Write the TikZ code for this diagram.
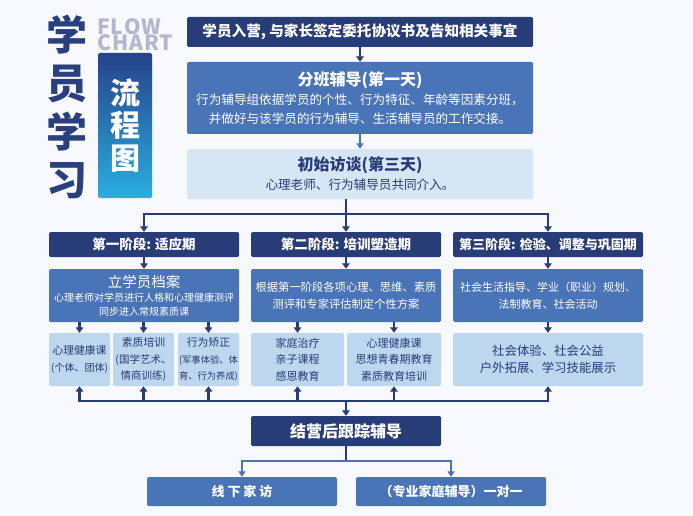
\documentclass[tikz,border=0pt]{standalone}
\usepackage{fontspec}
\setmainfont{Noto Sans CJK SC}
\usetikzlibrary{arrows.meta}
\definecolor{navy}{HTML}{283C78}
\definecolor{titlenavy}{HTML}{2A3F7E}
\definecolor{midblue}{HTML}{4A74B8}
\definecolor{pale}{HTML}{D7E6F4}
\definecolor{lightbox}{HTML}{BCD7EE}
\definecolor{bgcol}{HTML}{F7F9FC}
\definecolor{flowgray}{HTML}{B3B6CE}
\definecolor{gtop}{HTML}{26428A}
\definecolor{gbot}{HTML}{2AAEE0}
\tikzset{
  boxbase/.style={rounded corners=1.5pt, inner sep=0pt, align=center},
  wh/.style 2 args={minimum width=#1pt, minimum height=#2pt},
  darkbox/.style={boxbase, fill=navy, text=white},
  midbox/.style={boxbase, fill=midblue, text=white},
  palebox/.style={boxbase, fill=pale, text=navy},
  litebox/.style={boxbase, fill=lightbox, text=navy},
  conn/.style={draw=navy, line width=2.4pt},
  arr/.style={conn, -{Triangle[length=5.5pt,width=7.5pt]}},
  conn2/.style={draw=midblue, line width=2pt},
  arr2/.style={conn2, -{Triangle[length=5.5pt,width=7pt]}},
}
\begin{document}
\begin{tikzpicture}[x=1pt, y=-1pt]
\fill[bgcol] (0,0) rectangle (693,516);
\useasboundingbox (0,0) rectangle (693,516);

% title
\node[inner sep=0pt, align=center, text=titlenavy, font=\fontsize{41}{48.5}\selectfont\bfseries] (ttl) at (67,107) {学\\员\\学\\习};
\node[inner sep=0pt, anchor=north west, align=left, text=flowgray, font=\fontsize{21}{16.5}\selectfont\bfseries] (flow) at (97.5,18) {F\kern0.6ptL\kern0.6ptO\kern0.6ptW\\C\kern0.8ptH\kern0.8ptA\kern0.8ptR\kern0.8ptT};
\node[boxbase, wh={54}{145}, top color=gtop, bottom color=gbot, text=white, font=\fontsize{30}{32.7}\selectfont\bfseries] (grad) at (125,125.5) {流\\程\\图};

% top boxes
\node[darkbox, wh={346}{30}, font=\fontsize{14.6}{18}\selectfont\bfseries] (b1) at (360,32) {学员入营, 与家长签定委托协议书及告知相关事宜};
\node[midbox, wh={346}{72}, font=\fontsize{12.6}{19}\selectfont] (b2) at (360,98) {{\fontsize{16}{19}\selectfont\bfseries 分班辅导(第一天)}\\行为辅导组依据学员的个性、行为特征、年龄等因素分班，\\并做好与该学员的行为辅导、生活辅导员的工作交接。};
\node[palebox, wh={346}{50}, font=\fontsize{12.6}{19}\selectfont] (b3) at (360,174) {{\fontsize{16}{19}\selectfont\bfseries 初始访谈(第三天)}\\心理老师、行为辅导员共同介入。};

% stage headers
\node[darkbox, wh={190}{25}, font=\fontsize{13.5}{16}\selectfont\bfseries] (h1) at (144,244.5) {第一阶段: 适应期};
\node[darkbox, wh={190}{25}, font=\fontsize{13.5}{16}\selectfont\bfseries] (h2) at (346,244.5) {第二阶段: 培训塑造期};
\node[darkbox, wh={190}{25}, font=\fontsize{13}{16}\selectfont\bfseries] (h3) at (548,244.5) {第三阶段: 检验、调整与巩固期};

% stage boxes
\node[midbox, wh={190}{53}, font=\fontsize{10}{13.5}\selectfont] (r1) at (144,295.5) {{\fontsize{14.5}{13.5}\selectfont 立学员档案}\\[1pt]心理老师对学员进行人格和心理健康测评\\同步进入常规素质课};
\node[midbox, wh={190}{53}, font=\fontsize{11.3}{17}\selectfont] (r2) at (346,295.5) {根据第一阶段各项心理、思维、素质\\测评和专家评估制定个性方案};
\node[midbox, wh={190}{53}, font=\fontsize{11}{16.5}\selectfont] (r3) at (548,295.5) {社会生活指导、学业（职业）规划、\\法制教育、社会活动};

% sub boxes
\node[litebox, wh={61}{53}, font=\fontsize{10.8}{17}\selectfont] (s11) at (79.5,359.5) {心理健康课\\{\fontsize{10}{17}\selectfont (个体、团体)}};
\node[litebox, wh={61}{53}, font=\fontsize{10.5}{16.5}\selectfont] (s12) at (143.5,359.5) {{\fontsize{10.8}{16.5}\selectfont 素质培训}\\(国学艺术、\\情商训练)};
\node[litebox, wh={61}{53}, font=\fontsize{9.3}{16.5}\selectfont] (s13) at (208.5,359.5) {{\fontsize{10.8}{16.5}\selectfont 行为矫正}\\(军事体验、体\\育、行为养成)};
\node[litebox, wh={93}{53}, font=\fontsize{11}{16.5}\selectfont] (s21) at (297.5,359.5) {家庭治疗\\亲子课程\\感恩教育};
\node[litebox, wh={94}{53}, font=\fontsize{11}{16.5}\selectfont] (s22) at (394,359.5) {心理健康课\\思想青春期教育\\素质教育培训};
\node[litebox, wh={190}{53}, font=\fontsize{12.4}{17}\selectfont] (s31) at (548,359.5) {社会体验、社会公益\\户外拓展、学习技能展示};

% follow-up
\node[darkbox, wh={190}{30}, font=\fontsize{16}{19}\selectfont\bfseries] (f) at (346,431) {结营后跟踪辅导};
\node[midbox, wh={190}{29}, font=\fontsize{13}{16}\selectfont\bfseries] (g1) at (242,491.5) {线 下 家 访};
\node[midbox, wh={190}{29}, font=\fontsize{13}{16}\selectfont\bfseries] (g2) at (451,491.5) {（专业家庭辅导）一对一};

% connectors
\coordinate (jt) at (346,214);
\coordinate (jb) at (346,401);
\coordinate (jg) at (346,461);
\draw[arr] (b1) -- (b2);
\draw[arr2] (b2) -- (b3);
\draw[conn] (b3.south -| jt) -- (jt);
\draw[arr] (jt) -| (h1.north);
\draw[arr] (jt) -| (h3.north);
\draw[arr] (jt) -- (h2.north);
\draw[arr] (h1) -- (r1);
\draw[arr] (h2) -- (r2);
\draw[arr] (h3) -- (r3);
\draw[arr] (r1.south -| s11) -- (s11);
\draw[arr] (r1.south -| s12) -- (s12);
\draw[arr] (r1.south -| s13) -- (s13);
\draw[arr] (r2.south -| s21) -- (s21);
\draw[arr] (r2.south -| s22) -- (s22);
\draw[arr] (r3) -- (s31);
\draw[arr] (jb) -| (s11.south);
\draw[arr] (jb) -| (s12.south);
\draw[arr] (jb) -| (s13.south);
\draw[arr] (jb) -| (s21.south);
\draw[arr] (jb) -| (s22.south);
\draw[arr] (jb) -| (s31.south);
\draw[arr] (jb) -- (f.north);
\draw[conn] (f.south) -- (jg);
\draw[arr2] (jg) -| (g1.north);
\draw[arr2] (jg) -| (g2.north);
\end{tikzpicture}
\end{document}
